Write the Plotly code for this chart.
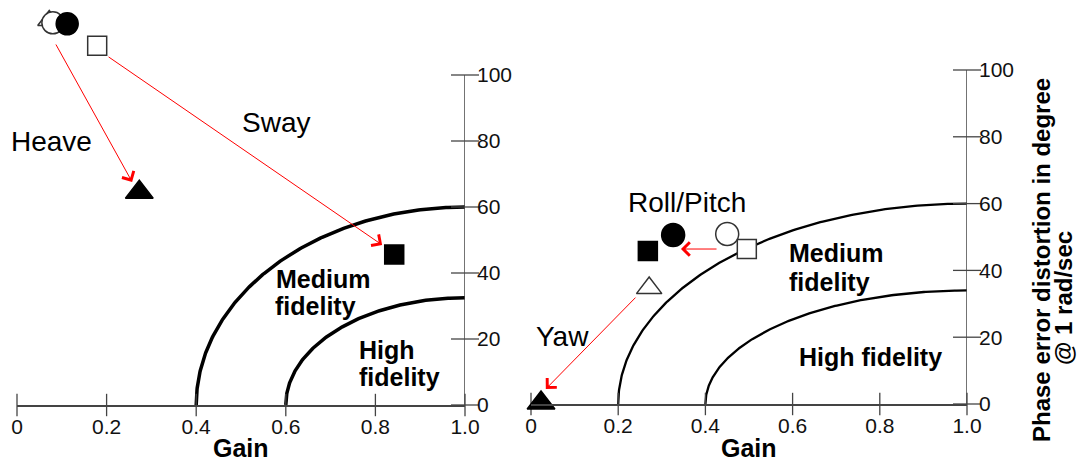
import numpy as np
import plotly.graph_objects as go

# ---------------- data ----------------
gain_ticks = [0, 0.2, 0.4, 0.6, 0.8, 1.0]
gain_ticktext = ["0", "0.2", "0.4", "0.6", "0.8", "1.0"]
phase_ticks = [0, 20, 40, 60, 80, 100]

# fidelity boundaries: (gain intercept, phase at gain=1)
left_medium = (0.4, 60)
left_high = (0.6, 32.5)
right_medium = (0.2, 60)
right_high = (0.4, 34)

# left panel points (gain, phase)
L_tri_open = (0.072, 116.5)
L_circ_open = (0.080, 115.8)
L_circ_fill = (0.112, 115.5)
L_sq_open = (0.179, 108.9)
L_tri_fill = (0.273, 64.5)
L_sq_fill = (0.842, 45.6)

# right panel points
R_circ_fill = (0.326, 50.6)
R_circ_open = (0.450, 50.9)
R_sq_open = (0.495, 46.4)
R_sq_fill = (0.268, 45.8)
R_tri_open = (0.271, 34.7)
R_tri_fill = (0.023, 0.3)

# arrows: (tail gain, tail phase, head gain, head phase)
L_arrows = [(0.085, 109.7, 0.257, 67.6), (0.201, 105.8, 0.815, 48.5)]
R_arrows = [(0.429, 46.4, 0.344, 46.4), (0.243, 32.3, 0.034, 4.5)]

FONT = "Liberation Sans, Arial, sans-serif"
AX = "#444444"
H = 463
W = 1079

fig = go.Figure()


def boundary(g0, p1, n=200):
    t = np.linspace(0, np.pi / 2, n)
    a = 1.0 - g0
    return 1.0 - a * np.cos(t), p1 * np.sin(t)


def add_curve(params, xa, ya, w):
    x, y = boundary(*params)
    fig.add_trace(go.Scatter(x=x, y=y, mode="lines", xaxis=xa, yaxis=ya,
                             line=dict(color="black", width=w), hoverinfo="skip",
                             showlegend=False))


def add_pt(pt, sym, size, filled, xa, ya):
    fig.add_trace(go.Scatter(
        x=[pt[0]], y=[pt[1]], mode="markers", xaxis=xa, yaxis=ya, cliponaxis=False,
        marker=dict(symbol=sym, size=size, color="black" if filled else "white",
                    line=dict(color="black" if filled else "#333333", width=1.5)),
        hoverinfo="skip", showlegend=False))


def add_axes_marks(xa, ya):
    # vertical phase axis line at gain = 1, from 0 to 100
    fig.add_shape(type="line", x0=1.0, x1=1.0, y0=phase_ticks[0], y1=phase_ticks[-1],
                  xref=xa, yref=ya, line=dict(color=AX, width=1.5), layer="above")
    fig.add_trace(go.Scatter(x=[1.0] * len(phase_ticks), y=phase_ticks, mode="markers",
                             xaxis=xa, yaxis=ya, cliponaxis=False,
                             marker=dict(symbol="line-ew", size=20, line=dict(color=AX, width=1.3)),
                             hoverinfo="skip", showlegend=False))
    fig.add_trace(go.Scatter(x=gain_ticks, y=[0] * len(gain_ticks), mode="markers",
                             xaxis=xa, yaxis=ya, cliponaxis=False,
                             marker=dict(symbol="line-ns", size=16, line=dict(color=AX, width=1.3)),
                             hoverinfo="skip", showlegend=False))


# left panel
add_curve(left_medium, "x", "y", 3.5)
add_curve(left_high, "x", "y", 3.5)
add_axes_marks("x", "y")
add_pt(L_tri_open, "triangle-up", 20, False, "x", "y")
add_pt(L_circ_open, "circle", 22, False, "x", "y")
add_pt(L_circ_fill, "circle", 22, True, "x", "y")
add_pt(L_sq_open, "square", 19, False, "x", "y")
add_pt(L_tri_fill, "triangle-up", 24, True, "x", "y")
add_pt(L_sq_fill, "square", 19, True, "x", "y")

# right panel
add_curve(right_medium, "x2", "y2", 2.3)
add_curve(right_high, "x2", "y2", 2.3)
add_axes_marks("x2", "y2")
add_pt(R_circ_fill, "circle", 23, True, "x2", "y2")
add_pt(R_circ_open, "circle", 23, False, "x2", "y2")
add_pt(R_sq_open, "square", 19, False, "x2", "y2")
add_pt(R_sq_fill, "square", 19, True, "x2", "y2")
add_pt(R_tri_open, "triangle-up", 22, False, "x2", "y2")
add_pt(R_tri_fill, "triangle-up", 24, True, "x2", "y2")

tickfont = dict(family=FONT, size=21, color="#111111")
xcommon = dict(range=[0, 1], tickvals=gain_ticks, ticktext=gain_ticktext, ticks="",
               ticklabelstandoff=2, showline=True, linecolor=AX, linewidth=1.5,
               showgrid=False, zeroline=False, automargin=False, tickfont=tickfont)
ycommon = dict(tickvals=phase_ticks, side="right", ticks="", ticklabelstandoff=11,
               showline=False, showgrid=False, zeroline=False, automargin=False,
               tickfont=tickfont)

# left: y=0 at px 405, 3.30 px/unit; right: y=0 at px 404, 3.34 px/unit; top at px 5
fig.update_layout(
    width=W, height=H,
    margin=dict(l=0, r=0, t=0, b=0),
    paper_bgcolor="white", plot_bgcolor="white",
    xaxis=dict(domain=[17 / W, 465 / W], anchor="y", **xcommon),
    yaxis=dict(domain=[(H - 405) / H, (H - 5) / H], range=[0, 400 / 3.30], anchor="x", **ycommon),
    xaxis2=dict(domain=[531 / W, 967 / W], anchor="y2", **xcommon),
    yaxis2=dict(domain=[(H - 404) / H, (H - 5) / H], range=[0, 399 / 3.34], anchor="x2", **ycommon),
)

anns = []


def txt(text, x, y, xr, yr, size=28, bold=False, xanchor="center"):
    anns.append(dict(text=f"<b>{text}</b>" if bold else text, x=x, y=y, xref=xr, yref=yr,
                     showarrow=False, xanchor=xanchor, yanchor="middle",
                     font=dict(family=FONT, size=size, color="black")))


txt("Heave", 0.078, 79.7, "x", "y")
txt("Sway", 0.578, 85.5, "x", "y")
txt("Medium", 0.574, 38.1, "x", "y", 25, True, "left")
txt("fidelity", 0.571, 30.0, "x", "y", 25, True, "left")
txt("High", 0.759, 16.6, "x", "y", 25, True, "left")
txt("fidelity", 0.759, 8.5, "x", "y", 25, True, "left")

txt("Roll/Pitch", 0.358, 60.2, "x2", "y2")
txt("Yaw", 0.073, 20.1, "x2", "y2")
txt("Medium", 0.587, 45.2, "x2", "y2", 25, True, "left")
txt("fidelity", 0.587, 36.5, "x2", "y2", 25, True, "left")
txt("High fidelity", 0.610, 14.1, "x2", "y2", 25, True, "left")

txt("Gain", 0.5, (H - 448) / H, "x domain", "paper", 25, True)
txt("Gain", 0.5, (H - 448) / H, "x2 domain", "paper", 25, True)

for t, x, y in [("Phase error distortion in degree", 1041 / W, (H - 260) / H),
                ("@ 1 rad/sec", 1063 / W, (H - 298) / H)]:
    anns.append(dict(text=f"<b>{t}</b>", x=x, y=y, xref="paper", yref="paper", showarrow=False,
                     textangle=-90, xanchor="center", yanchor="middle",
                     font=dict(family=FONT, size=24, color="black")))

for arrs, xr, yr in [(L_arrows, "x", "y"), (R_arrows, "x2", "y2")]:
    for tx, ty, hx, hy in arrs:
        anns.append(dict(text="", x=hx, y=hy, ax=tx, ay=ty, xref=xr, yref=yr, axref=xr, ayref=yr,
                         showarrow=True, arrowhead=4, arrowsize=2.6, arrowwidth=1, arrowcolor="red"))

fig.update_layout(annotations=anns)
fig.write_html("out.html", config={"displayModeBar": False},
               post_script="document.body.style.margin='0';document.body.style.overflow='hidden';")
